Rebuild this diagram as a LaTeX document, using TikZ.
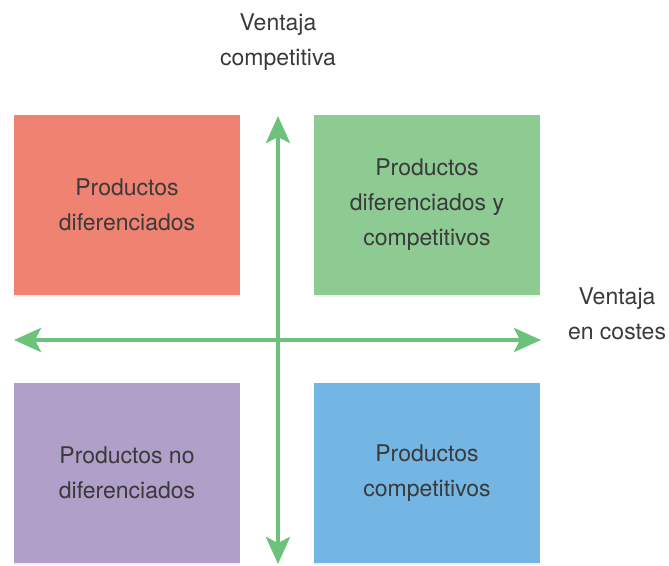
\documentclass[tikz,border=0pt]{standalone}
\usepackage{fontspec}
\setmainfont{TeX Gyre Heros}
\usetikzlibrary{positioning,arrows.meta,shadows}

\definecolor{boxred}{HTML}{F08272}
\definecolor{boxgreen}{HTML}{8DCB93}
\definecolor{boxpurple}{HTML}{B09FC8}
\definecolor{boxblue}{HTML}{74B6E3}
\definecolor{axisgreen}{HTML}{6CC27A}
\definecolor{textgrey}{HTML}{3A3A3A}

\tikzset{
    quadbox/.style={minimum width=226pt, minimum height=180pt, inner sep=0pt, align=center,
        text=textgrey, font=\fontsize{23}{35}\selectfont,
        drop shadow={opacity=0.12, shadow xshift=0pt, shadow yshift=-1.5pt}},
    axislabel/.style={align=center, text=textgrey, font=\fontsize{23}{35}\selectfont, inner sep=0pt},
    axisline/.style={draw=axisgreen, line width=4.5pt,
        -{Stealth[length=27pt, width=24pt, inset=6pt]}}
}

\begin{document}
\begin{tikzpicture}[x=1pt, y=-1pt]
        \useasboundingbox (0,0) rectangle (669,565);
        % quadrants
        \node[quadbox, fill=boxred] (dif) at (127,205) {Productos\\diferenciados};
        \node[quadbox, fill=boxgreen] (difcomp) at (427,205) {Productos\\diferenciados y\\competitivos};
        \node[quadbox, fill=boxpurple] (nodif) at (127,473) {Productos no\\diferenciados};
        \node[quadbox, fill=boxblue] (comp) at (427,473) {Productos\\competitivos};
        % axes
        \coordinate (O) at (278,340);
        \coordinate (top) at (278,116);
        \coordinate (bottom) at (278,564);
        \coordinate (left) at (14,340);
        \coordinate (right) at (541,340);
        \draw[axisline] (O) -- (top);
        \draw[axisline] (O) -- (bottom);
        \draw[axisline] (O) -- (left);
        \draw[axisline] (O) -- (right);
        \node[axislabel] (vcomp) at (278,42) {Ventaja\\competitiva};
        \node[axislabel] (vcost) at (617,314) {Ventaja\\en costes};
    \end{tikzpicture}
\end{document}
